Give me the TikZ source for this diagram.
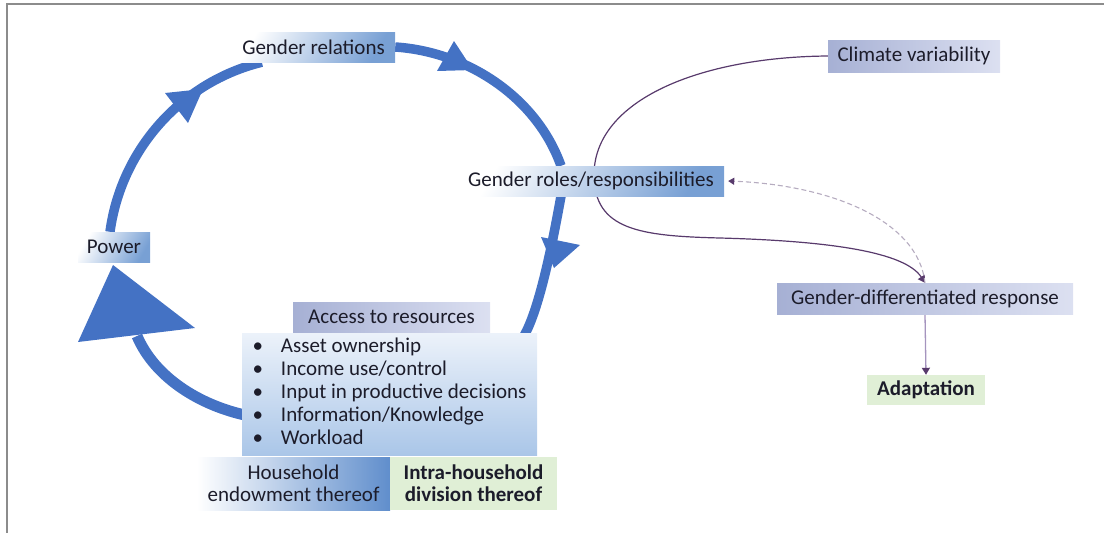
\documentclass[tikz,border=0pt]{standalone}
\usepackage{fontspec}
\setmainfont{Carlito}
\usetikzlibrary{arrows.meta,calc}
\definecolor{arcblue}{RGB}{68,114,196}
\definecolor{lblue}{RGB}{120,160,212}
\definecolor{lav1}{RGB}{166,176,212}
\definecolor{lav2}{RGB}{220,224,241}
\definecolor{bul1}{RGB}{236,242,250}
\definecolor{bul2}{RGB}{170,198,232}
\definecolor{hhblue}{RGB}{96,142,204}
\definecolor{lgreen}{RGB}{224,239,214}
\definecolor{conn}{RGB}{88,58,108}
\definecolor{connlight}{RGB}{165,148,190}
\definecolor{dashc}{RGB}{182,172,192}
\definecolor{txt}{RGB}{28,28,42}
\definecolor{framec}{RGB}{140,140,140}
\pgfdeclarelayer{back}
\pgfsetlayers{back,main}
\begin{document}
\begin{tikzpicture}[x=1pt,y=-1pt,
  font=\fontsize{21}{23}\selectfont,
  lbl/.style={rectangle, inner sep=0pt, text=txt, minimum height=30pt},
  bluegrad/.style={top color=white, bottom color=lblue, shading angle=60},
  lavgrad/.style={left color=lav1, right color=lav2},
  hhgrad/.style={left color=white, right color=hhblue},
  greenbox/.style={fill=lgreen},
  arcline/.style={draw=arcblue, line width=9.5pt},
  arrowtri/.style={fill=arcblue},
  conline/.style={draw=conn, line width=1.2pt, -{Triangle[length=7pt,width=8pt]}},
  dashline/.style={draw=dashc, line width=1.1pt, dash pattern=on 5pt off 3pt, -{Triangle[length=6pt,width=7pt,color=conn]}},
  lightline/.style={draw=connlight, line width=1.3pt, -{Triangle[length=7pt,width=8pt,color=conn]}}
]
\useasboundingbox (0,0) rectangle (1104,533);
\draw[framec, line width=1.3pt] (7,533) -- (7,4) -- (1104,4);

% nodes
\node[lbl, bluegrad, minimum width=163pt] (grel) at (313.5,47) {Gender relations};
\node[lbl, bluegrad, minimum width=72pt] (power) at (114,247) {Power};
\node[lbl, bluegrad, minimum width=266pt] (groles) at (591,181) {Gender roles/responsibilities};
\node[lbl, lavgrad, minimum width=172pt, minimum height=32pt] (clim) at (914,56) {Climate variability};
\node[lbl, lavgrad, minimum width=296pt, minimum height=31pt] (gdr) at (925,298.5) {Gender-differentiated response};
\node[lbl, greenbox, minimum width=118pt, font=\fontsize{21}{23}\selectfont\bfseries] (adapt) at (926,390) {Adaptation};
\node[lbl, lavgrad, minimum width=197pt] (access) at (391.5,317) {Access to resources};
\node[lbl, top color=bul1, bottom color=bul2, minimum width=295pt, minimum height=122pt] (bullets) at (389.5,394)
  {\begin{tabular}{@{}l@{\hspace{18pt}}l@{}}
   \textbullet & Asset ownership\\
   \textbullet & Income use/control\\
   \textbullet & Input in productive decisions\\
   \textbullet & Information/Knowledge\\
   \textbullet & Workload
   \end{tabular}};
\node[lbl, hhgrad, minimum width=193pt, minimum height=53pt, align=center, font=\fontsize{21}{22}\selectfont] (house) at (293.5,483.5) {Household\\endowment thereof};
\node[lbl, greenbox, minimum width=167pt, minimum height=53pt, align=center, font=\fontsize{21}{22}\selectfont\bfseries] (intra) at (473.5,483.5) {Intra-household\\division thereof};

\begin{pgfonlayer}{back}
  % blue cycle
  \draw[arcline] ($(power.north)+(-4,0)$) .. controls (121,150) and (181,82) .. ($(grel.south west)+(30,0)$);
  \draw[arcline] (grel.east) .. controls (467.6,51.8) and (536.7,97.4) .. ($(groles.north)+(-30,0)$);
  \draw[arcline] ($(groles.south)+(-30,0)$) .. controls (555.4,226.2) and (539.1,319.9) .. ($(bullets.north east)+(-18,10)$);
  \draw[arcline, line width=11pt] ($(bullets.west)+(3,21)$) .. controls (200,405) and (155,378) .. (137,336);
  \fill[arrowtri] (165,93) -- (188,123) -- (203,89) -- cycle;
  \fill[arrowtri] (454,41) -- (437,71) -- (473,70) -- cycle;
  \fill[arrowtri] (541,237) -- (580,245) -- (554,268) -- cycle;
  \fill[arrowtri] (113,265) -- (78,342) -- (195,328) -- cycle;
  % thin connectors
  \draw[conline] (clim.west) .. controls (700,57) and (594,100) .. (594,175)
     .. controls (594,230) and (640,236) .. (720,238)
     .. controls (830,241) and (905,252) .. (gdr.north);
  \draw[dashline] (gdr.north) .. controls (918,220) and (830,185) .. ($(groles.east)+(4,0)$);
  \draw[lightline] (gdr.south) -- (adapt.north);
\end{pgfonlayer}
\end{tikzpicture}
\end{document}
